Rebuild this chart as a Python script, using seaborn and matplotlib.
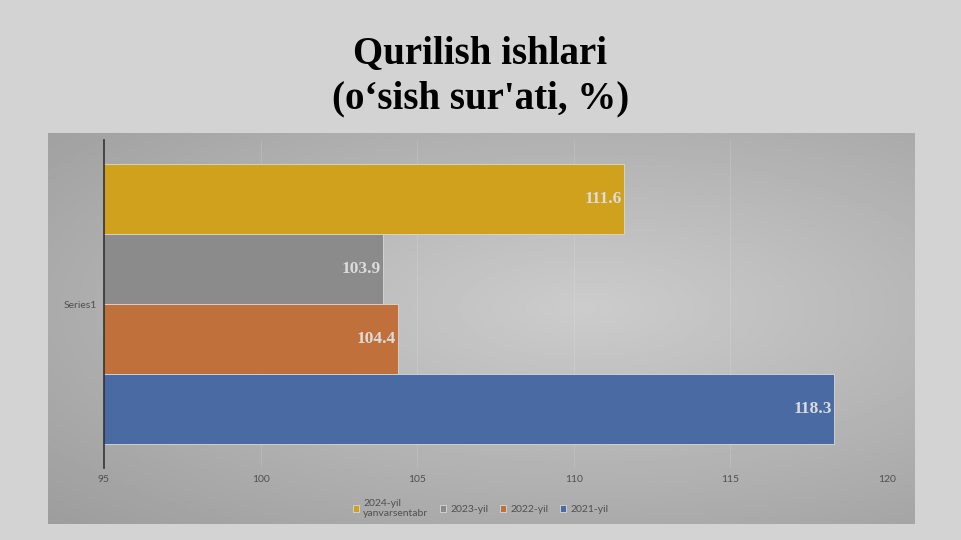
import numpy as np
import pandas as pd
import matplotlib
matplotlib.use('Agg')
import matplotlib.pyplot as plt
import seaborn as sns

# data
years = ['2024-yil\nyanvarsentabr', '2023-yil', '2022-yil', '2021-yil']
values = [111.6, 103.9, 104.4, 118.3]
category = 'Series1'
colors = ['#cfa11c', '#8b8b8b', '#c0703b', '#4a6aa4']
xticks = [95, 100, 105, 110, 115, 120]

df = pd.DataFrame({'cat': [category] * len(years), 'year': years, 'value': values})

sns.set_theme(style='white')
plt.rcParams['font.family'] = ['Lato', 'DejaVu Sans']

fig = plt.figure(figsize=(9.61, 5.4), dpi=100)
fig.patch.set_facecolor('#d3d3d3')

# gradient panel behind the chart
bg = fig.add_axes([48 / 961, 1 - 524 / 540, (915 - 48) / 961, (524 - 133) / 540])
yy, xx = np.mgrid[0:1:200j, 0:1:400j]
r = np.sqrt(((xx - 0.62) / 0.9) ** 2 + ((yy - 0.45) / 0.8) ** 2)
grad = 0.80 - 0.19 * np.clip(r, 0, 1)
bg.imshow(grad, cmap='gray', vmin=0, vmax=1, aspect='auto', extent=[0, 1, 0, 1])
bg.set_axis_off()

ax = fig.add_axes([104 / 961, 1 - 468 / 540, (887 - 104) / 961, 328 / 540])
ax.patch.set_alpha(0)
sns.barplot(data=df, x='value', y='cat', hue='year', hue_order=years,
            palette=colors, orient='h', width=0.8, saturation=1, ax=ax,
            edgecolor='#d8d8d8', linewidth=0.6)

ax.set_xlim(95, 120)
ax.set_ylim(0.469, -0.469)
ax.set_xticks(xticks)
ax.set_xlabel('')
ax.set_ylabel('')
ax.tick_params(axis='both', length=0, labelsize=7.5, labelcolor='#505050', pad=5)
ax.grid(axis='x', color='white', alpha=0.12, linewidth=0.8)
for s in ['top', 'right', 'bottom']:
    ax.spines[s].set_visible(False)
ax.spines['left'].set_color('#333333')
ax.spines['left'].set_linewidth(1.2)

for cont, v in zip(ax.containers, values):
    texts = ax.bar_label(cont, labels=[f'{v:.1f}'], padding=-1.5,
                         fontsize=12.5, fontweight='bold', color='#dcdcdc',
                         family='Liberation Serif')
    for t in texts:
        t.set_ha('right')

handles, labels = ax.get_legend_handles_labels()
ax.get_legend().remove()
fig.legend(handles, labels, loc='center', bbox_to_anchor=(0.5, 0.058), ncol=4,
           frameon=False, fontsize=7.5, labelcolor='#505050',
           handlelength=0.6, handleheight=0.6, handletextpad=0.4, columnspacing=1.1)

fig.text(0.5, 0.858, "Qurilish ishlari\n(o\u2018sish sur'ati, %)", ha='center', va='center',
         fontsize=28, fontweight='bold', family=['Liberation Serif', 'DejaVu Serif'],
         color='black', linespacing=1.3)

fig.savefig('out.png', dpi=100, facecolor=fig.get_facecolor())
